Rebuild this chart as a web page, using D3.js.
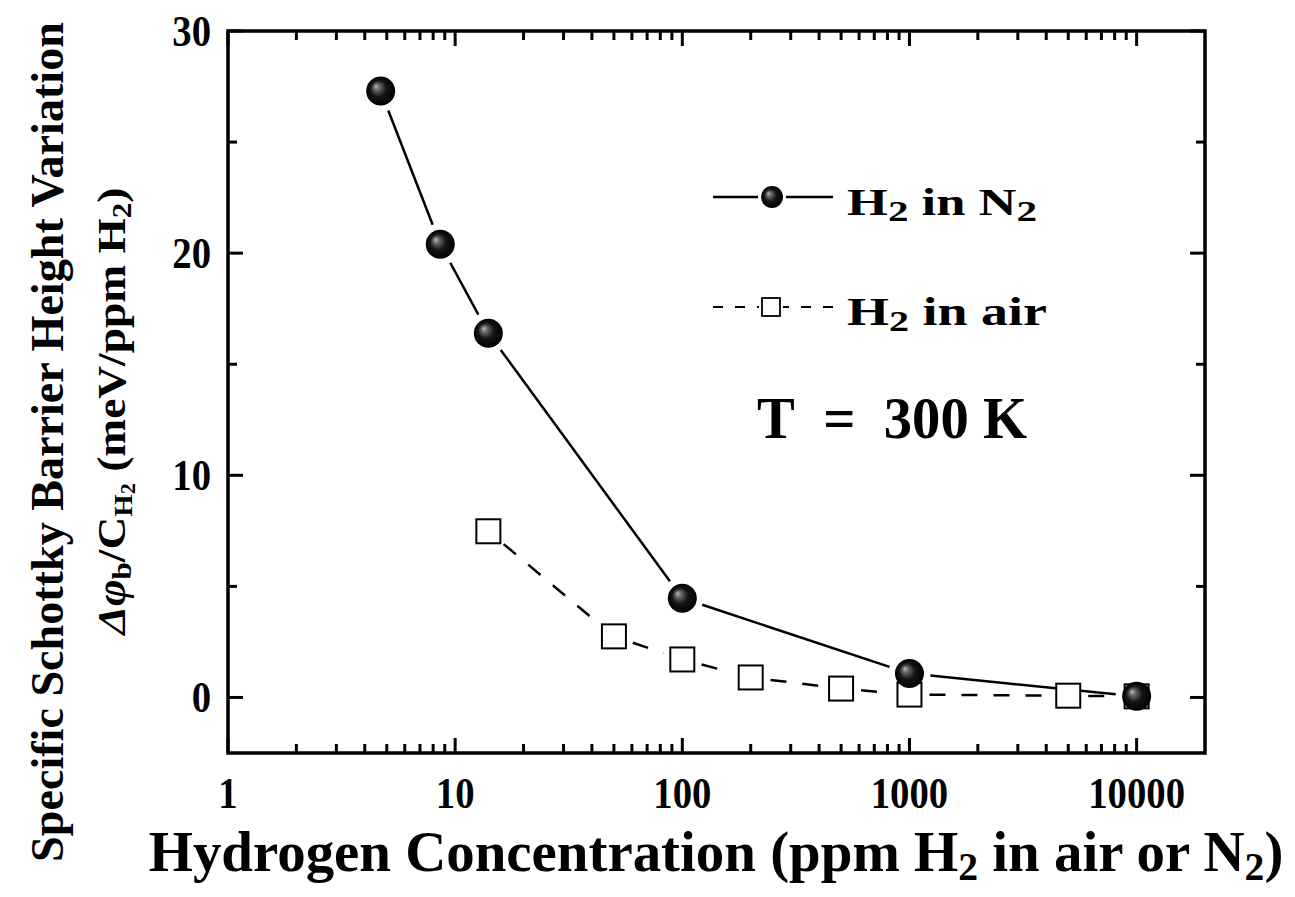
<!DOCTYPE html>
<html>
<head>
<meta charset="utf-8">
<script src="https://cdn.jsdelivr.net/npm/d3@7"></script>
<style>
  html, body { margin: 0; padding: 0; background: #fff; }
</style>
</head>
<body>
<svg id="chart" width="1295" height="897"></svg>
<script>
// Specific Schottky barrier height variation vs. hydrogen concentration
const n2Conc   = [4.7, 8.6, 14, 100, 1000, 10000];
const n2Values = [27.3, 20.4, 16.4, 4.47, 1.08, 0.05];

const airConc   = [14, 50, 100, 200, 500, 1000, 5000, 10000];
const airValues = [7.48, 2.75, 1.71, 0.9, 0.4, 0.13, 0.08, 0.05];

const xTickValues = [1, 10, 100, 1000, 10000];
const xTickLabels = ["1", "10", "100", "1000", "10000"];
const yTickValues = [0, 10, 20, 30];
const yTickLabels = ["0", "10", "20", "30"];

const FONT = "'Liberation Serif', 'Times New Roman', Tinos, 'Nimbus Roman', Times, serif";

const svg = d3.select("#chart");
const plotL = 228, plotR = 1205, plotT = 31, plotB = 753;

const x = d3.scaleLog().domain([1, 20000]).range([plotL, plotR]);
const y = d3.scaleLinear().domain([-2.5, 30]).range([plotB, plotT]);

// minor ticks
const xMinor = [];
for (let d = 1; d <= 10000; d *= 10) for (let k = 2; k <= 9; k++) if (d * k <= 20000) xMinor.push(d * k);
const yMinor = [5, 15, 25];

const axes = svg.append("g").attr("stroke", "#000").attr("stroke-width", 3);
const majorLen = 15, minorLen = 9;

// x ticks, bottom and top (inward)
xTickValues.forEach(v => {
  axes.append("line").attr("x1", x(v)).attr("x2", x(v)).attr("y1", plotB).attr("y2", plotB - majorLen);
  axes.append("line").attr("x1", x(v)).attr("x2", x(v)).attr("y1", plotT).attr("y2", plotT + majorLen);
});
xMinor.filter(v => x(v) < plotR - 2).forEach(v => {
  axes.append("line").attr("x1", x(v)).attr("x2", x(v)).attr("y1", plotB).attr("y2", plotB - minorLen);
  axes.append("line").attr("x1", x(v)).attr("x2", x(v)).attr("y1", plotT).attr("y2", plotT + minorLen);
});
// y ticks, left and right (inward)
yTickValues.forEach(v => {
  axes.append("line").attr("y1", y(v)).attr("y2", y(v)).attr("x1", plotL).attr("x2", plotL + majorLen);
  axes.append("line").attr("y1", y(v)).attr("y2", y(v)).attr("x1", plotR).attr("x2", plotR - majorLen);
});
yMinor.forEach(v => {
  axes.append("line").attr("y1", y(v)).attr("y2", y(v)).attr("x1", plotL).attr("x2", plotL + minorLen);
  axes.append("line").attr("y1", y(v)).attr("y2", y(v)).attr("x1", plotR).attr("x2", plotR - minorLen);
});
// frame
svg.append("rect").attr("x", plotL).attr("y", plotT).attr("width", plotR - plotL).attr("height", plotB - plotT)
  .attr("fill", "none").attr("stroke", "#000").attr("stroke-width", 3.5);

// tick labels (slightly condensed)
const TICK_SIZE = 44, TICK_SX = 0.88;
xTickValues.forEach((v, i) => {
  svg.append("text").attr("text-anchor", "middle")
    .attr("transform", `translate(${x(v)},808) scale(${TICK_SX},1)`)
    .attr("font-family", FONT).attr("font-weight", "bold")
    .attr("font-size", TICK_SIZE).text(xTickLabels[i]);
});
yTickValues.forEach((v, i) => {
  svg.append("text").attr("text-anchor", "end")
    .attr("transform", `translate(211,${y(v) + 15}) scale(${TICK_SX},1)`)
    .attr("font-family", FONT).attr("font-weight", "bold")
    .attr("font-size", TICK_SIZE).text(yTickLabels[i]);
});

// sphere gradient
const defs = svg.append("defs");
const grad = defs.append("radialGradient").attr("id", "ball")
  .attr("cx", "50%").attr("cy", "50%").attr("r", "50%").attr("fx", "33%").attr("fy", "33%");
grad.append("stop").attr("offset", "0%").attr("stop-color", "#b8b8b8");
grad.append("stop").attr("offset", "22%").attr("stop-color", "#666");
grad.append("stop").attr("offset", "55%").attr("stop-color", "#151515");
grad.append("stop").attr("offset", "100%").attr("stop-color", "#000");

// connecting segments that stop short of the markers
function segments(xs, ys, gap, dash, width) {
  const pts = xs.map((c, i) => [x(c), y(ys[i])]);
  const g = svg.append("g").attr("stroke", "#000").attr("stroke-width", width).attr("fill", "none");
  for (let i = 0; i < pts.length - 1; i++) {
    const [x0, y0] = pts[i], [x1, y1] = pts[i + 1];
    const L = Math.hypot(x1 - x0, y1 - y0);
    if (L <= 2 * gap) continue;
    const ux = (x1 - x0) / L, uy = (y1 - y0) / L;
    const ln = g.append("line")
      .attr("x1", x0 + ux * gap).attr("y1", y0 + uy * gap)
      .attr("x2", x1 - ux * gap).attr("y2", y1 - uy * gap);
    if (dash) ln.attr("stroke-dasharray", dash);
  }
}

segments(airConc, airValues, 20, "16,16", 2.5);
segments(n2Conc, n2Values, 21, null, 2.5);

// air markers: open squares
const sq = 24;
svg.append("g").selectAll("rect").data(airConc).join("rect")
  .attr("x", d => x(d) - sq / 2).attr("y", (d, i) => y(airValues[i]) - sq / 2)
  .attr("width", sq).attr("height", sq)
  .attr("fill", "#fff").attr("stroke", "#000").attr("stroke-width", 2);

// N2 markers: shaded spheres
svg.append("g").selectAll("circle").data(n2Conc).join("circle")
  .attr("cx", d => x(d)).attr("cy", (d, i) => y(n2Values[i])).attr("r", 14.5)
  .attr("fill", "url(#ball)");

// text helper: pieces are [text, size, baseline offset, italic]; the label is
// scaled horizontally to the requested width
function fitted(parent, cx, cy, width, size, rot, pieces) {
  const t = parent.append("text").attr("font-size", size).attr("text-anchor", "middle")
    .attr("font-family", FONT).attr("font-weight", "bold").attr("fill", "#000");
  let cur = 0;
  pieces.forEach(([str, sz, off, ital]) => {
    const ts = t.append("tspan").text(str).attr("dy", (off || 0) - cur);
    cur = off || 0;
    if (sz) ts.attr("font-size", sz);
    if (ital) ts.attr("font-style", "italic");
  });
  const w = t.node().getComputedTextLength();
  const s = width / w;
  t.attr("transform", `translate(${cx},${cy}) rotate(${rot}) scale(${s},1)`);
  return t;
}

// legend
const legend = svg.append("g");
legend.append("line").attr("x1", 713).attr("x2", 833).attr("y1", 197).attr("y2", 197)
  .attr("stroke", "#000").attr("stroke-width", 2.5);
legend.append("circle").attr("cx", 772).attr("cy", 197).attr("r", 14).attr("fill", "#fff");
legend.append("circle").attr("cx", 772).attr("cy", 197).attr("r", 11).attr("fill", "url(#ball)");
legend.append("line").attr("x1", 713).attr("x2", 833).attr("y1", 307).attr("y2", 307)
  .attr("stroke", "#000").attr("stroke-width", 2).attr("stroke-dasharray", "10,12");
legend.append("rect").attr("x", 759).attr("y", 295).attr("width", 24).attr("height", 24).attr("fill", "#fff");
legend.append("rect").attr("x", 762).attr("y", 298).attr("width", 18).attr("height", 18)
  .attr("fill", "#fff").attr("stroke", "#000").attr("stroke-width", 1.8);

fitted(legend, 942, 215, 190, 37, 0, [["H"], ["2", 29, 6], ["\u00A0in N", null, 0], ["2", 29, 6]]);
fitted(legend, 947, 325, 200, 39, 0, [["H"], ["2", 29, 6], ["\u00A0in air", null, 0]]);
fitted(svg, 892, 438, 270, 60, 0, [["T\u00A0\u00A0=\u00A0\u00A0300 K"]]);

// axis titles
fitted(svg, 716, 871, 1135, 56, 0,
  [["Hydrogen Concentration (ppm\u00A0H"], ["2", 39, 9], ["\u00A0in air or N", null, 0], ["2", 39, 9], [")", null, 0]]);
fitted(svg, 63, 442, 840, 47, -90, [["Specific Schottky Barrier Height Variation"]]);
fitted(svg, 125, 411, 447, 41, -90, [
  ["\u0394\u03C6", null, 0, true], ["b", 28, 6], ["/C", null, 0], ["H", 26, 7], ["2", 20, 10],
  ["\u00A0(meV/ppm\u00A0H", null, 0], ["2", 28, 6], [")", null, 0]
]);
</script>
</body>
</html>
